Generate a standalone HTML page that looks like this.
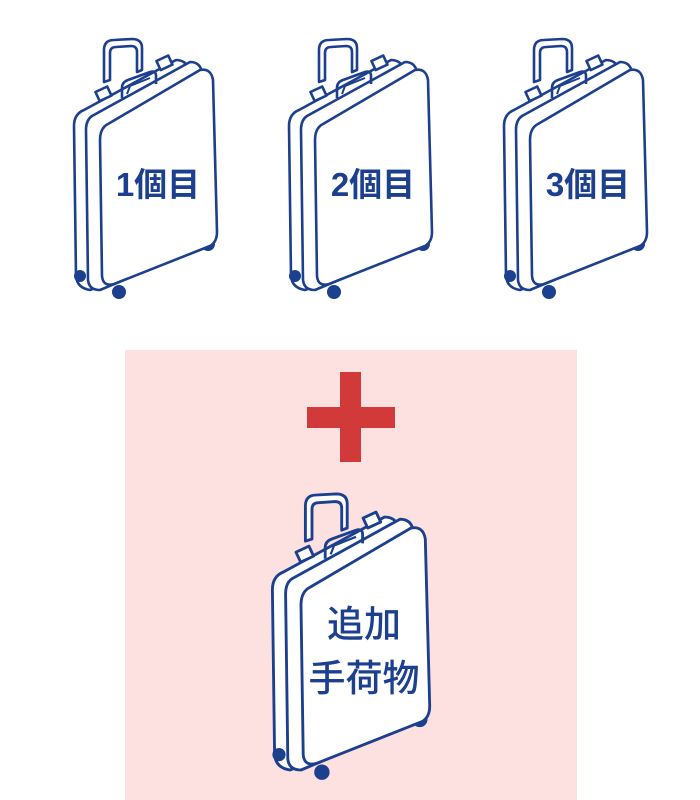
<!DOCTYPE html>
<html><head><meta charset="utf-8"><style>
html,body{margin:0;padding:0;background:#fff;}
svg{display:block}
</style></head><body>
<svg width="700" height="800" viewBox="0 0 700 800" xmlns="http://www.w3.org/2000/svg">
<defs>
<g id="case" stroke="#1c3f8e" stroke-width="2.6" fill="#fff" stroke-linejoin="round">
  <path d="M104,82 L104,50 Q104,40 114,40 L132,39 Q142,39 142,48 L142,70 L137,72 L137,52 Q137,46 131,46 L116,47 Q110,47 110,53 L110,80 Z"/>
  <path d="M84,110 Q74,114 74,126 L76,276 Q77,288 90,290 L186,252 Q192,248 192,238 L190,74 Q188,60 176,60 Z"/>
  <path d="M92,116 Q86,120 86,130 L88,280 Q89,290 100,290 L200,248 Q205,245 205,235 L202,72 Q200,62 190,62 Z"/>
  <path d="M122,98 L122,88 Q122,82 128,80 L150,72 Q156,70 156,76 L156,84" fill="none"/>
  <path d="M127,94 L130,86 L150,78" fill="none" stroke-width="2"/>
  <rect x="97" y="89" width="13" height="10" transform="rotate(-25 103 94)"/>
  <rect x="158" y="58" width="13" height="10" transform="rotate(-25 164 63)"/>
  <circle cx="80" cy="276" r="6" fill="#1c3f8e" stroke="none"/>
  <circle cx="119" cy="292" r="7" fill="#1c3f8e" stroke="none"/>
  <circle cx="208" cy="244" r="7" fill="#1c3f8e" stroke="none"/>
  <path d="M108,124 Q100,128 100,140 L102,276 Q103,287 114,284 L210,246 Q217,242 217,232 L213,80 Q211,68 200,70 Z"/>
</g>
</defs>
<rect x="125" y="350" width="452" height="450" fill="#fde0e0"/>
<rect x="307" y="407" width="88" height="21" fill="#d23a3a"/>
<rect x="340" y="372" width="21" height="90" fill="#d23a3a"/>
<use href="#case"/>
<use href="#case" transform="translate(215,0)"/>
<use href="#case" transform="translate(430,0)"/>
<use href="#case" transform="translate(191,451) scale(1.1)"/>
<g font-family="'Liberation Sans','Noto Sans CJK JP',sans-serif" fill="#1c3f8e" font-weight="bold" font-size="33" text-anchor="middle">
<text x="158" y="196">1個目</text>
<text x="373" y="196">2個目</text>
<text x="588" y="196">3個目</text>
<text x="364" y="637" font-size="37" font-weight="500">追加</text>
<text x="364" y="691" font-size="37" font-weight="500">手荷物</text>
</g>
</svg>
</body></html>
